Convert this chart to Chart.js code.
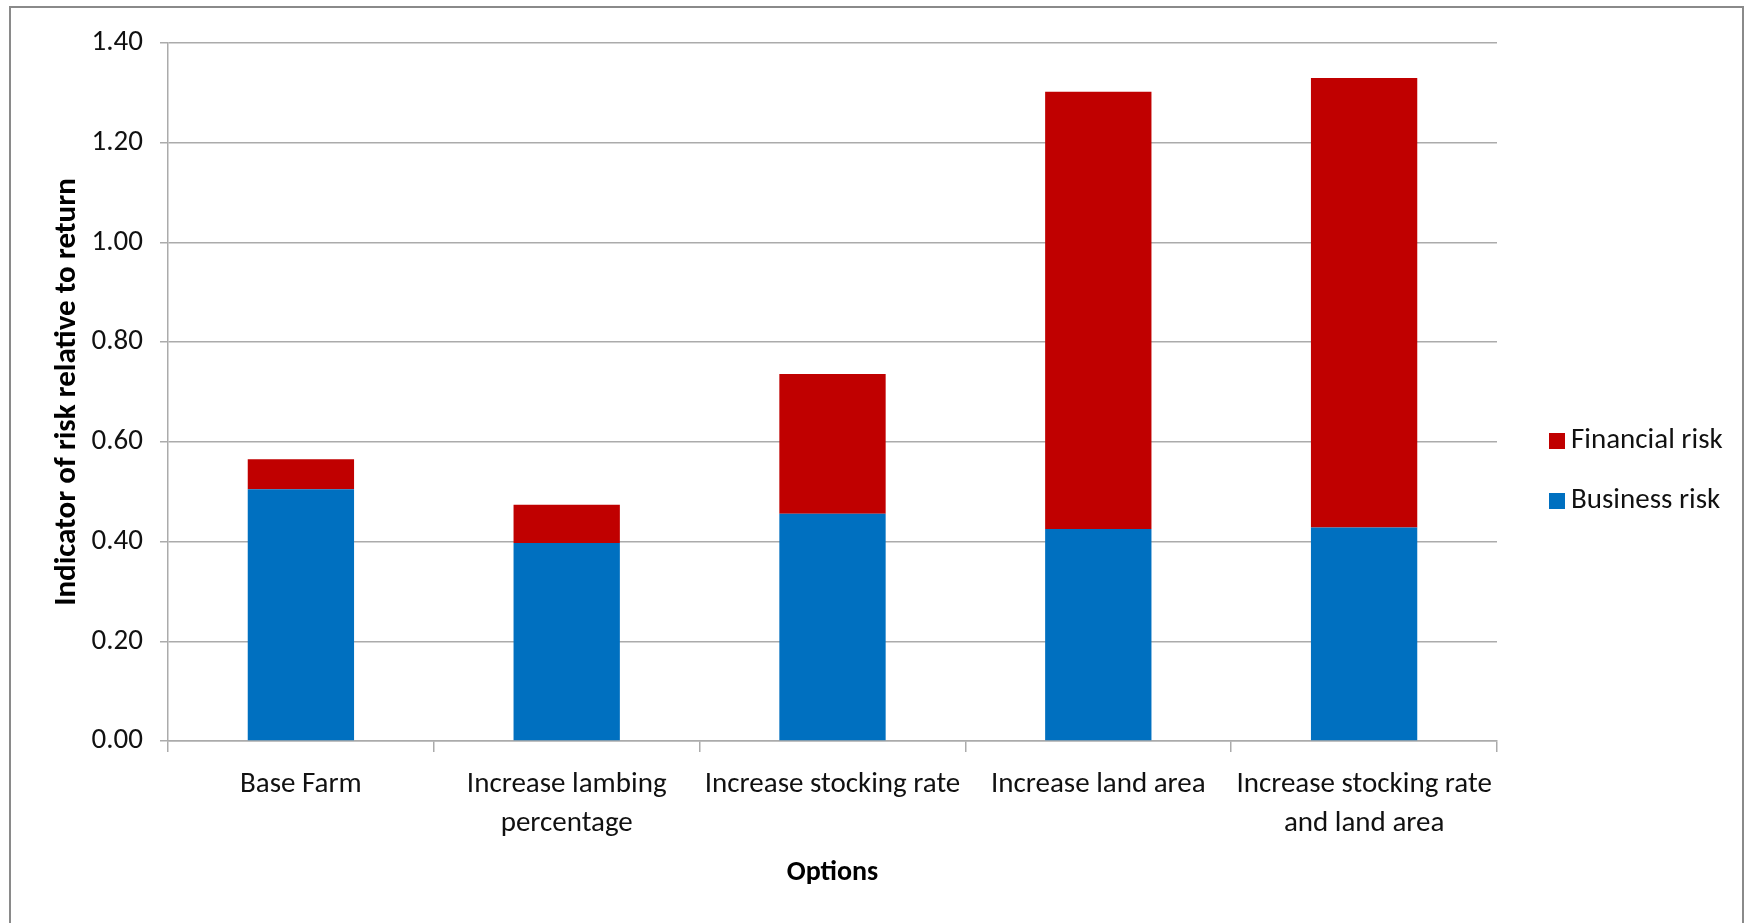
<!DOCTYPE html>
<html>
<head>
<meta charset="utf-8">
<script src="https://cdn.jsdelivr.net/npm/chart.js@4"></script>
<style>
  html, body { margin: 0; padding: 0; background: #fff; overflow: hidden; }
  #wrap { position: relative; width: 1752px; height: 923px; }
  #frame { position: absolute; left: 9px; top: 6px; width: 1735px; height: 960px; border: 2px solid #8a8a8a; box-sizing: border-box; pointer-events: none; }
</style>
</head>
<body>
<div id="wrap">
  <canvas id="chart"></canvas>
  <div id="frame"></div>
</div>
<script>
// ===== 데이터 =====
const categories = [
  "Base Farm",
  ["Increase lambing", "percentage"],
  "Increase stocking rate",
  "Increase land area",
  ["Increase stocking rate", "and land area"]
];
const businessRisk = [0.505, 0.397, 0.456, 0.425, 0.428];
const financialRisk = [0.060, 0.077, 0.280, 0.877, 0.902];
const yTicks = [0, 0.2, 0.4, 0.6, 0.8, 1.0, 1.2, 1.4];

const FONT = "Calibri, Carlito, Lato, sans-serif";
const GRID = "#ababab";

// 범례는 엑셀처럼 오른쪽에 직접 그림 (Financial 위, Business 아래)
const legendPlugin = {
  id: "sideLegend",
  afterDraw(chart) {
    const ctx = chart.ctx;
    const items = chart.data.datasets.slice().reverse();
    ctx.save();
    ctx.font = "29px " + FONT;
    ctx.textBaseline = "middle";
    items.forEach((ds, i) => {
      const y = 441 + i * 60;
      ctx.fillStyle = ds.backgroundColor;
      ctx.fillRect(1549, y - 8, 16, 16);
      ctx.fillStyle = "#111";
      ctx.fillText(ds.label, 1571, y);
    });
    ctx.restore();
  }
};

new Chart(document.getElementById("chart"), {
  type: "bar",
  data: {
    labels: categories,
    datasets: [
      { label: "Business risk", data: businessRisk, backgroundColor: "#0070c0", barPercentage: 0.4, categoryPercentage: 1 },
      { label: "Financial risk", data: financialRisk, backgroundColor: "#c00000", barPercentage: 0.4, categoryPercentage: 1 }
    ]
  },
  options: {
    responsive: true, maintainAspectRatio: false, animation: false,
    layout: { padding: { top: 43, right: 255, bottom: 0, left: 0 } },
    plugins: { legend: { display: false }, tooltip: { enabled: false } },
    scales: {
      x: {
        stacked: true,
        afterFit: (s) => { s.height = 182; },
        grid: { offset: true, drawOnChartArea: false, tickLength: 11, color: GRID, lineWidth: 1.5 },
        border: { color: GRID, width: 1.5 },
        ticks: { color: "#111", padding: 13, font: { family: FONT, size: 29, lineHeight: 1.345 }, maxRotation: 0, autoSkip: false },
        title: { display: true, text: "Options", color: "#000", font: { family: FONT, size: 28, weight: "bold", lineHeight: 1.2 }, padding: { top: 0, bottom: 33 } }
      },
      y: {
        stacked: true, min: 0, max: 1.4,
        afterFit: (s) => { s.width = 168; },
        afterBuildTicks: (s) => { s.ticks = yTicks.map((v) => ({ value: v })); },
        grid: { color: GRID, lineWidth: 1.5, tickLength: 8 },
        border: { color: GRID, width: 1.5 },
        ticks: { color: "#111", padding: 17, font: { family: FONT, size: 29 }, callback: (v) => Number(v).toFixed(2) },
        title: { display: true, text: "Indicator of risk relative to return", color: "#000", font: { family: FONT, size: 31, weight: "bold", lineHeight: 1.2 }, padding: { top: 49, bottom: 0 } }
      }
    }
  },
  plugins: [legendPlugin]
});
</script>
</body>
</html>
